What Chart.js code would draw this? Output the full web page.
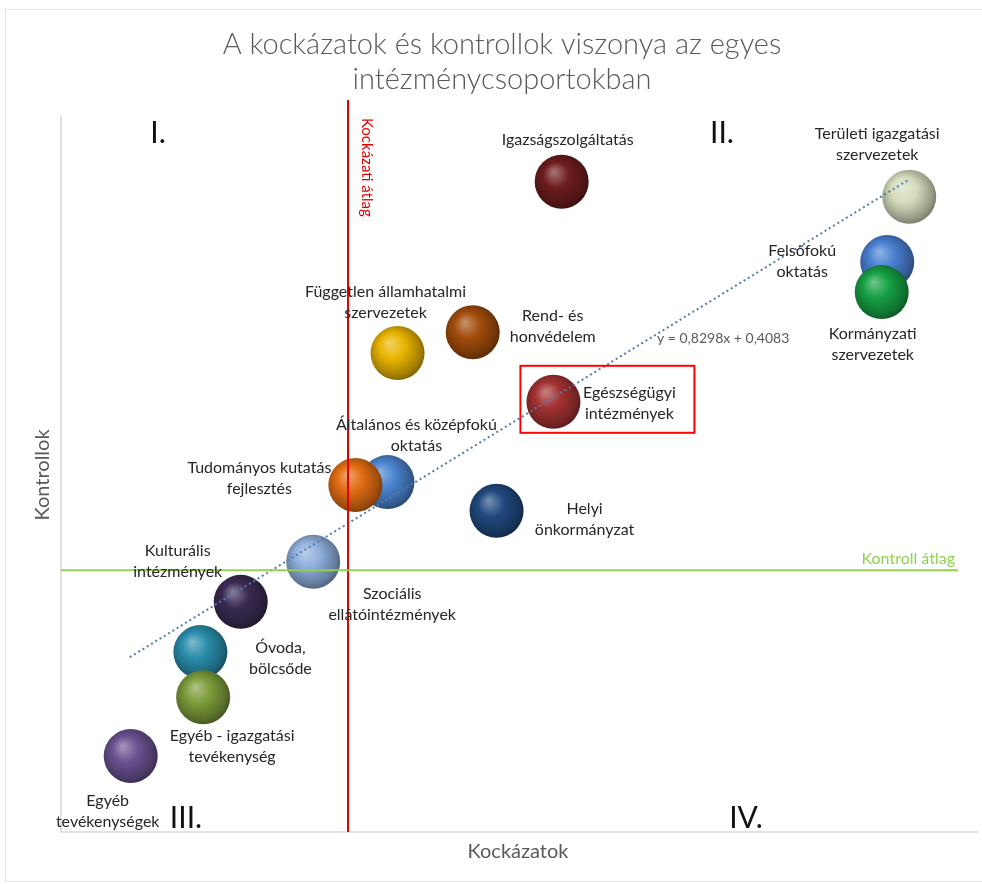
<!DOCTYPE html>
<html>
<head>
<meta charset="utf-8">
<script src="https://cdn.jsdelivr.net/npm/chart.js@4.4.1/dist/chart.umd.min.js"></script>
<style>
  html, body { margin: 0; padding: 0; background: #fff; overflow: hidden; }
  #wrap { position: relative; width: 982px; height: 884px; }
  #frame { position: absolute; left: 5px; top: 9px; width: 977px; height: 873px; border: 1px solid #e3e3e3; border-right: none; box-sizing: border-box; }
  canvas { position: absolute; left: 0; top: 0; }
</style>
</head>
<body>
<div id="wrap">
  <div id="frame"></div>
  <canvas id="grafico" width="982" height="884"></canvas>
</div>
<script>
// Intézménycsoportok (rajzolási sorrendben)
const csoportok = [
  "Igazságszolgáltatás",
  "Területi igazgatási szervezetek",
  "Felsőfokú oktatás",
  "Kormányzati szervezetek",
  "Független államhatalmi szervezetek",
  "Rend- és honvédelem",
  "Egészségügyi intézmények",
  "Általános és középfokú oktatás",
  "Tudományos kutatás fejlesztés",
  "Helyi önkormányzat",
  "Szociális ellátóintézmények",
  "Kulturális intézmények",
  "Óvoda, bölcsőde",
  "Egyéb - igazgatási tevékenység",
  "Egyéb tevékenységek"
];
const kockazatok = [5.46, 9.25, 9.01, 8.95, 3.67, 4.49, 5.37, 3.56, 3.21, 4.75, 2.75, 1.96, 1.52, 1.55, 0.76];
const kontrollok = [9.07, 8.86, 7.95, 7.53, 6.68, 6.97, 6.00, 4.88, 4.84, 4.48, 3.77, 3.21, 2.51, 1.88, 1.06];
const szinek = ["#6e1c1c", "#d5dcbc", "#4a80d2", "#16a043", "#e8b400", "#a24c0c", "#a33232", "#4a84cf",
                "#e26c12", "#20497f", "#8eaedb", "#3a2b52", "#2a8dab", "#7c9c3a", "#6a5191"];

// Átlagok és trendvonal
const kockazatiAtlag = 3.13;
const kontrollAtlag = 3.65;
const trendMeredekseg = 0.784;
const trendTengely = 1.85;
const trendTol = 0.75;
const trendIg = 9.24;
const trendFelirat = "y = 0,8298x + 0,4083";

// Feliratok eltolása a gömbök középpontjától (px): [dx, dy első sor]
const feliratEltolas = [
  [6, -42], [-32, -63], [-85, -11], [-9, 42], [-12, -61], [80, -16], [76, -9], [29, -57],
  [-96, -17], [88, -2], [79, 32], [-63, -51], [80, -4], [29, 39], [-23, 45]
];
const feliratSorok = [
  ["Igazságszolgáltatás"], ["Területi igazgatási", "szervezetek"], ["Felsőfokú", "oktatás"],
  ["Kormányzati", "szervezetek"], ["Független államhatalmi", "szervezetek"], ["Rend- és", "honvédelem"],
  ["Egészségügyi", "intézmények"], ["Általános és középfokú", "oktatás"], ["Tudományos kutatás", "fejlesztés"],
  ["Helyi", "önkormányzat"], ["Szociális", "ellátóintézmények"], ["Kulturális", "intézmények"],
  ["Óvoda,", "bölcsőde"], ["Egyéb - igazgatási", "tevékenység"], ["Egyéb", "tevékenységek"]
];

function arnyal(hex, t) {
  // t > 0 világosít, t < 0 sötétít
  const n = parseInt(hex.slice(1), 16);
  let r = n >> 16, g = (n >> 8) & 255, b = n & 255;
  const cel = t > 0 ? 255 : 0, k = Math.abs(t);
  r = Math.round(r + (cel - r) * k);
  g = Math.round(g + (cel - g) * k);
  b = Math.round(b + (cel - b) * k);
  return `rgb(${r},${g},${b})`;
}

function gombSzin(context) {
  const chart = context.chart;
  const i = context.dataIndex;
  if (!chart.scales.x || i === undefined || !context.raw) return szinek[i] || "#888";
  const x = chart.scales.x.getPixelForValue(context.raw.x);
  const y = chart.scales.y.getPixelForValue(context.raw.y);
  const r = context.raw.r;
  if (!isFinite(x) || !isFinite(y)) return szinek[i];
  const g = chart.ctx.createRadialGradient(x - r * 0.3, y - r * 0.38, 0, x - r * 0.05, y - r * 0.05, r * 1.2);
  g.addColorStop(0, arnyal(szinek[i], 0.4));
  g.addColorStop(0.4, szinek[i]);
  g.addColorStop(0.8, arnyal(szinek[i], -0.3));
  g.addColorStop(1, arnyal(szinek[i], -0.55));
  return g;
}

const diszites = {
  id: "diszites",
  beforeDatasetsDraw(chart) {
    const { ctx, chartArea: a } = chart;
    ctx.save();
    ctx.strokeStyle = "#d9d9d9";
    ctx.lineWidth = 1.5;
    ctx.beginPath();
    ctx.moveTo(a.left, a.top);
    ctx.lineTo(a.left, a.bottom);
    ctx.lineTo(a.right, a.bottom);
    ctx.stroke();

    // cím
    ctx.fillStyle = "#595959";
    ctx.font = "300 29px Lato";
    ctx.textAlign = "center";
    ctx.textBaseline = "middle";
    ctx.fillText("A kockázatok és kontrollok viszonya az egyes", 502, 45);
    ctx.fillText("intézménycsoportokban", 502, 80);

    // tengelycímek
    ctx.font = "20px Lato";
    ctx.fillText("Kockázatok", 518, 852);
    ctx.translate(43, 475);
    ctx.rotate(-Math.PI / 2);
    ctx.fillText("Kontrollok", 0, 0);
    ctx.restore();

    // negyedek
    ctx.save();
    ctx.fillStyle = "#111";
    ctx.font = "30px Lato";
    ctx.textAlign = "center";
    ctx.textBaseline = "middle";
    ctx.fillText("I.", 158, 133);
    ctx.fillText("II.", 722, 133);
    ctx.fillText("III.", 186, 818);
    ctx.fillText("IV.", 746, 818);
    ctx.restore();
  },
  afterDatasetsDraw(chart) {
    const { ctx } = chart;
    const meta = chart.getDatasetMeta(0);
    ctx.save();
    ctx.fillStyle = "#262626";
    ctx.font = "16px Lato";
    ctx.textAlign = "center";
    ctx.textBaseline = "middle";
    meta.data.forEach((pt, i) => {
      const [dx, dy] = feliratEltolas[i];
      feliratSorok[i].forEach((sor, j) => ctx.fillText(sor, pt.x + dx, pt.y + dy + j * 21));
    });

    // kiemelés keret
    const e = meta.data[6];
    ctx.strokeStyle = "#ff0000";
    ctx.lineWidth = 2;
    ctx.strokeRect(e.x - 33, e.y - 36, 174, 67);

    // átlagok feliratai
    const sx = chart.scales.x, sy = chart.scales.y;
    ctx.fillStyle = "#92d050";
    ctx.textAlign = "right";
    ctx.font = "16px Lato";
    ctx.fillText("Kontroll átlag", 955, sy.getPixelForValue(kontrollAtlag) - 11);

    ctx.fillStyle = "#595959";
    ctx.textAlign = "left";
    ctx.font = "14px Lato";
    ctx.fillText(trendFelirat, 657, 338);

    ctx.save();
    ctx.fillStyle = "#e00000";
    ctx.font = "15px Lato";
    ctx.translate(sx.getPixelForValue(kockazatiAtlag) + 19, 118);
    ctx.rotate(Math.PI / 2);
    ctx.textAlign = "left";
    ctx.fillText("Kockázati átlag", 0, 0);
    ctx.restore();
    ctx.restore();
  }
};

new Chart(document.getElementById("grafico"), {
  data: {
    datasets: [
      {
        type: "bubble",
        label: "Intézménycsoportok",
        data: csoportok.map((n, i) => ({ x: kockazatok[i], y: kontrollok[i], r: 27 })),
        backgroundColor: gombSzin,
        borderWidth: 0,
        clip: false,
        order: 3
      },
      {
        type: "line",
        label: "Trend",
        data: [
          { x: trendTol, y: trendMeredekseg * trendTol + trendTengely },
          { x: trendIg, y: trendMeredekseg * trendIg + trendTengely }
        ],
        borderColor: "#4f7cad",
        borderWidth: 2,
        borderDash: [2, 3],
        pointRadius: 0,
        clip: false,
        order: 2
      },
      {
        type: "line",
        label: "Kockázati átlag",
        data: [{ x: kockazatiAtlag, y: 0 }, { x: kockazatiAtlag, y: 10.21 }],
        borderColor: "#e00000",
        borderWidth: 2,
        pointRadius: 0,
        clip: false,
        order: 1
      },
      {
        type: "line",
        label: "Kontroll átlag",
        data: [{ x: 0, y: kontrollAtlag }, { x: 9.78, y: kontrollAtlag }],
        borderColor: "#92d050",
        borderWidth: 2,
        pointRadius: 0,
        clip: false,
        order: 0
      }
    ]
  },
  options: {
    responsive: false,
    animation: false,
    layout: { autoPadding: false, padding: { left: 61, top: 115, right: 4, bottom: 52 } },
    plugins: { legend: { display: false }, tooltip: { enabled: false } },
    scales: {
      x: { type: "linear", min: 0, max: 10, display: false },
      y: { type: "linear", min: 0, max: 10, display: false }
    }
  },
  plugins: [diszites]
});
</script>
</body>
</html>
